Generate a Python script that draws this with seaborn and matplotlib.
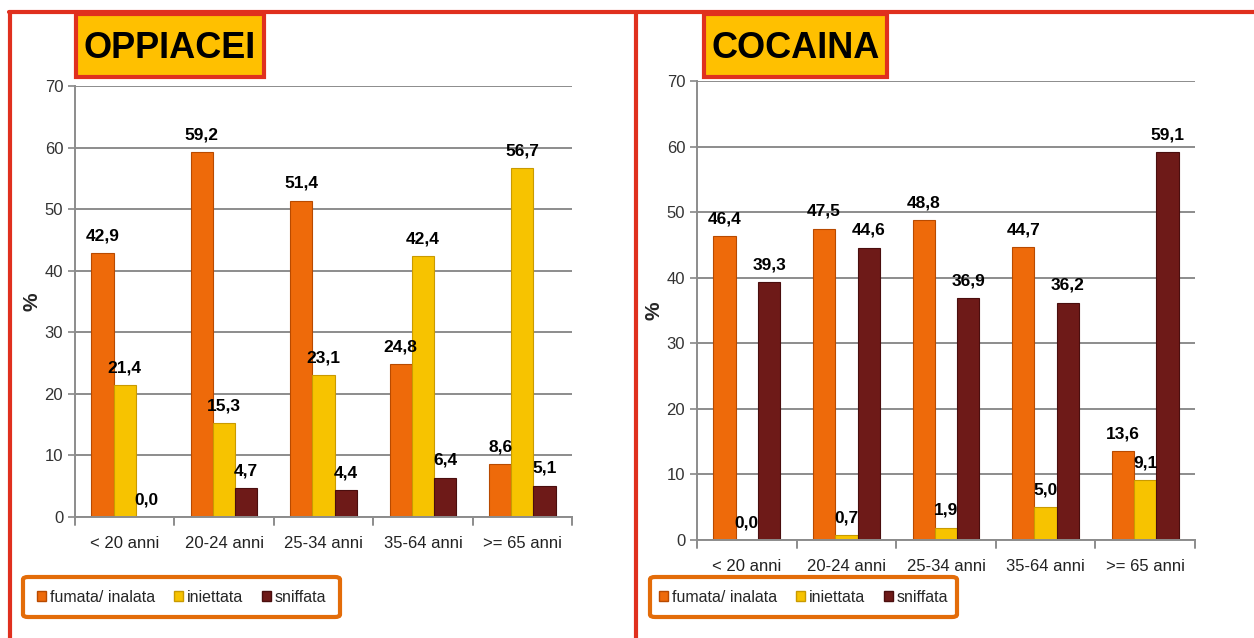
import matplotlib
matplotlib.use("Agg")
import matplotlib.pyplot as plt
import matplotlib.patches as mpatches
from matplotlib.lines import Line2D
import seaborn as sns
import pandas as pd

# --- data ---
age_groups = ["< 20 anni", "20-24 anni", "25-34 anni", "35-64 anni", ">= 65 anni"]
modes = ["fumata/ inalata", "iniettata", "sniffata"]

oppiacei_fumata = [42.9, 59.2, 51.4, 24.8, 8.6]
oppiacei_iniettata = [21.4, 15.3, 23.1, 42.4, 56.7]
oppiacei_sniffata = [0.0, 4.7, 4.4, 6.4, 5.1]

cocaina_fumata = [46.4, 47.5, 48.8, 44.7, 13.6]
cocaina_iniettata = [0.0, 0.7, 1.9, 5.0, 9.1]
cocaina_sniffata = [39.3, 44.6, 36.9, 36.2, 59.1]

colors = ["#EE6A0A", "#F7C300", "#6E1A18"]
edge_colors = ["#B84A00", "#C99A00", "#4A0E0E"]

sns.set_theme(style="white")
plt.rcParams["font.family"] = ["Liberation Sans", "DejaVu Sans"]


def long_table(fumata, iniettata, sniffata):
    rows = []
    for serie, vals in zip(modes, [fumata, iniettata, sniffata]):
        for g, v in zip(age_groups, vals):
            rows.append({"eta": g, "modo": serie, "valore": v})
    return pd.DataFrame(rows)


def draw_panel(ax, df, title, title_box):
    sns.barplot(data=df, x="eta", y="valore", hue="modo", order=age_groups,
                hue_order=modes, palette=colors, width=0.67, ax=ax,
                saturation=1, errorbar=None, legend=False)
    for cont, ec in zip(ax.containers, edge_colors):
        for bar in cont:
            bar.set_edgecolor(ec)
            bar.set_linewidth(0.8)
        ax.bar_label(cont, labels=[f"{b.get_height():.1f}".replace(".", ",") for b in cont],
                     padding=7, fontsize=12.5, fontweight="bold", color="black")
    ax.set_ylim(0, 70)
    ax.set_yticks(range(0, 71, 10))
    ax.set_xlim(-0.5, 4.5)
    ax.yaxis.grid(True, color="#8C8C8C", linewidth=1.4)
    ax.set_axisbelow(True)
    for s in ["top", "right"]:
        ax.spines[s].set_visible(False)
    for s in ["left", "bottom"]:
        ax.spines[s].set_color("#8C8C8C")
        ax.spines[s].set_linewidth(1.4)
    ax.set_xlabel("")
    ax.set_ylabel("%", fontsize=15, fontweight="bold", labelpad=2)
    ax.tick_params(axis="y", left=True, length=5, color="#8C8C8C", labelsize=12, colors="#333333")
    ax.tick_params(axis="x", bottom=False, labelsize=12, colors="#222222", pad=8)
    # tick marks between groups
    for xb in [-0.5, 0.5, 1.5, 2.5, 3.5, 4.5]:
        ax.plot([xb, xb], [0, -0.018], transform=ax.get_xaxis_transform(),
                color="#8C8C8C", lw=1.4, clip_on=False)
    # title box
    fig = ax.figure
    x0, y0, w, h = title_box
    fig.patches.append(mpatches.Rectangle((x0, y0), w, h, transform=fig.transFigure,
                                          facecolor="#FFC000", edgecolor="#E0301E", lw=3))
    fig.text(x0 + w / 2, y0 + h / 2 - 0.004, title, ha="center", va="center",
             fontsize=26, fontweight="bold", color="black")


fig = plt.figure(figsize=(12.54, 6.38), dpi=100)

# red frame lines round the two panels
red = "#E0301E"
fig.add_artist(Line2D([9 / 1254, 1], [1 - 12 / 638] * 2, color=red, lw=3, transform=fig.transFigure))
for xf in [9.5, 636]:
    fig.add_artist(Line2D([xf / 1254] * 2, [0, 1 - 12 / 638], color=red, lw=3,
                          transform=fig.transFigure))

ax1 = fig.add_axes([75 / 1254, 1 - 517 / 638, 497 / 1254, 431 / 638])
ax2 = fig.add_axes([697 / 1254, 1 - 540 / 638, 498 / 1254, 459 / 638])

draw_panel(ax1, long_table(oppiacei_fumata, oppiacei_iniettata, oppiacei_sniffata),
           "OPPIACEI", (76 / 1254, 1 - 77 / 638, 188 / 1254, 63 / 638))
draw_panel(ax2, long_table(cocaina_fumata, cocaina_iniettata, cocaina_sniffata),
           "COCAINA", (704 / 1254, 1 - 77 / 638, 183 / 1254, 63 / 638))

# legends in orange boxes
handles = [mpatches.Patch(facecolor=c, edgecolor=e) for c, e in zip(colors, edge_colors)]
for (x0, x1) in [(23, 340), (650, 957)]:
    fig.patches.append(mpatches.FancyBboxPatch((x0 / 1254, 1 - 617 / 638), (x1 - x0) / 1254, 40 / 638,
                                               boxstyle="round,pad=0,rounding_size=0.004",
                                               transform=fig.transFigure, facecolor="white",
                                               edgecolor="#E36C09", lw=3))
    fig.legend(handles, modes, loc="center", bbox_to_anchor=((x0 + x1) / 2 / 1254, 1 - 597 / 638),
               ncol=3, frameon=False, fontsize=11.5, handlelength=0.55, handleheight=0.55,
               handletextpad=0.25, columnspacing=1.2)

fig.savefig("out.png", dpi=100)
